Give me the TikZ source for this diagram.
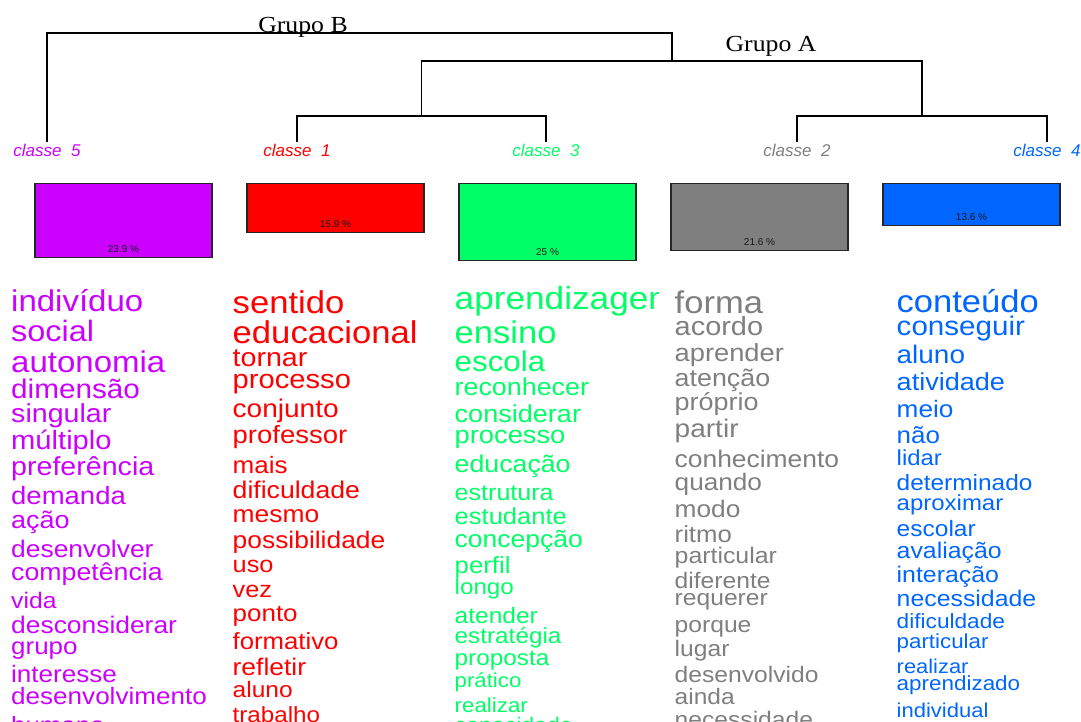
\documentclass[tikz,border=0pt]{standalone}
\usepackage{fontspec}
\setmainfont{Liberation Sans}
\newfontfamily\palfont[FakeStretch=1.1]{Liberation Sans}
\newfontfamily\grupofont[FakeStretch=1.12]{Liberation Serif}

\definecolor{roxo}{RGB}{204,0,255}
\definecolor{vermelho}{RGB}{255,0,0}
\definecolor{verde}{RGB}{0,255,102}
\definecolor{cinza}{RGB}{127,127,127}
\definecolor{azul}{RGB}{0,102,255}

\begin{document}
\begin{tikzpicture}[x=1pt,y=-1pt,
    linha/.style={line width=1.1pt},
    grupo/.style={font=\grupofont\fontsize{23}{23}\selectfont, anchor=base, inner sep=0pt},
    classe/.style={font=\itshape\fontsize{17}{17}\selectfont, anchor=base, inner sep=0pt},
    barra/.style={draw=black!85, line width=1.2pt, minimum width=177pt, anchor=north, inner sep=0pt},
    pct/.style={font=\fontsize{10}{10}\selectfont, anchor=base, inner sep=0pt, text=black!90},
    pal/.style={anchor=base west, inner sep=0pt}]

  \useasboundingbox (0,0) rectangle (1081,722);
  \clip (0,0) rectangle (1081,722);

  % dendrograma
  \node[classe, text=roxo] (c5) at (47,157) {classe\ \ 5};
  \node[classe, text=vermelho] (c1) at (297,157) {classe\ \ 1};
  \node[classe, text=verde] (c3) at (546,157) {classe\ \ 3};
  \node[classe, text=cinza] (c2) at (797,157) {classe\ \ 2};
  \node[classe, text=azul] (c4) at (1047,157) {classe\ \ 4};

  \coordinate (m13) at (421.5,116);
  \coordinate (m24) at (922,116);
  \coordinate (mA) at (672,61);
  \coordinate (mB) at (359.5,33);

  \draw[linha] ([yshift=2pt]c1.north) |- (m13) -| ([yshift=2pt]c3.north);
  \draw[linha] ([yshift=2pt]c2.north) |- (m24) -| ([yshift=2pt]c4.north);
  \draw[linha] (m13) |- (mA) -| (m24);
  \draw[linha] ([yshift=2pt]c5.north) |- (mB) -| (mA);

  \node[grupo] (gB) at (303,32.5) {Grupo B};
  \node[grupo] (gA) at (771,52) {Grupo A};

  % barras
  \foreach \cor/\p/\n/\x in {roxo/23.9/5/123.5, vermelho/15.9/1/335.5, verde/25/3/547.5,
                               cinza/21.6/2/759.5, azul/13.6/4/971.5} {
    \node[barra, fill=\cor, minimum height=\p*3.08pt] (b\n) at (\x,183) {};
    \node[pct] (p\n) at ([yshift=5.5pt]b\n.south) {\p\ \%};
  }

  % classe 5
  \foreach \pal/\tam/\lin [count=\i] in {indivíduo/30/311, social/29.5/341, autonomia/30/372,
      dimensão/27/398, singular/26/422, múltiplo/26.5/449, preferência/26/475, demanda/25/504,
      ação/24.5/528, desenvolver/24/557, competência/24.3/580, vida/22.5/608,
      desconsiderar/24/633, grupo/23.6/654, interesse/23.7/682, desenvolvimento/23.7/704,
      humano/23.5/733}
    \node[pal, text=roxo, font=\palfont\fontsize{\tam}{\tam}\selectfont] (w5-\i) at (11,\lin) {\pal};

  % classe 1
  \foreach \pal/\tam/\lin [count=\i] in {sentido/31.5/313, educacional/31.5/343, tornar/26/366,
      processo/26.5/388, conjunto/25.5/417, professor/25/443, mais/23.7/473, dificuldade/24.2/498,
      mesmo/24/522, possibilidade/24/548, uso/23/572, vez/23/597, ponto/23.6/621,
      formativo/23.4/649, refletir/24/675, aluno/22.3/697, trabalho/22/722}
    \node[pal, text=vermelho, font=\palfont\fontsize{\tam}{\tam}\selectfont] (w1-\i) at (232.5,\lin) {\pal};

  % classe 3
  \begin{scope}
    \clip (440,280) rectangle (658,330);
    \node[pal, text=verde, font=\palfont\fontsize{32}{32}\selectfont] (w3-1) at (454.5,309) {aprendizagem};
  \end{scope}
  \foreach \pal/\tam/\lin [count=\i from 2] in {ensino/31.4/343, escola/28.5/371,
      reconhecer/24.4/395, considerar/24.6/422, processo/24.8/443, educação/24.3/472,
      estrutura/22.8/500, estudante/23.2/524, concepção/24.1/547, perfil/23.4/573,
      longo/22/594, atender/22.3/623, estratégia/22.1/643, proposta/22.1/665,
      prático/20.2/687, realizar/20.3/712, capacidade/21/732}
    \node[pal, text=verde, font=\palfont\fontsize{\tam}{\tam}\selectfont] (w3-\i) at (454.5,\lin) {\pal};

  % classe 2
  \foreach \pal/\tam/\lin [count=\i] in {forma/31.4/313, acordo/26.3/335, aprender/24.8/361,
      atenção/24.4/386, próprio/24.5/410, partir/25.5/437, conhecimento/24/467, quando/23.8/490,
      modo/23.9/517, ritmo/23.4/542, particular/22.6/563, diferente/22.4/588, requerer/22.4/605,
      porque/22.4/632, lugar/22.4/656, desenvolvido/22.4/682, ainda/22.3/704,
      necessidade/22.4/727}
    \node[pal, text=cinza, font=\palfont\fontsize{\tam}{\tam}\selectfont] (w2-\i) at (674.5,\lin) {\pal};

  % classe 4
  \foreach \pal/\tam/\lin [count=\i] in {conteúdo/31.4/312, conseguir/26.9/335, aluno/25.4/363,
      atividade/24.6/390, meio/23.8/417, não/23.6/443, lidar/21.7/465, determinado/22.2/490,
      aproximar/21.8/510, escolar/22.3/536, avaliação/22.6/558, interação/22.6/582,
      necessidade/22.6/606, dificuldade/20.6/628, particular/20.3/648, realizar/19.9/673,
      aprendizado/20.4/690, individual/20/717}
    \node[pal, text=azul, font=\palfont\fontsize{\tam}{\tam}\selectfont] (w4-\i) at (896.5,\lin) {\pal};
\end{tikzpicture}
\end{document}
